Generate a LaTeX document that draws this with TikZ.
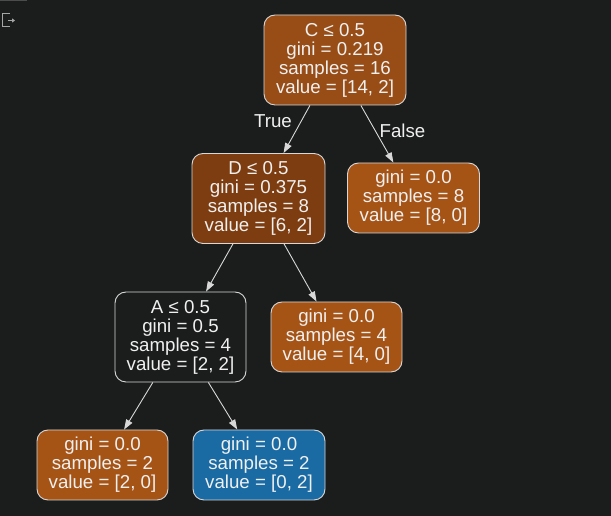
\documentclass[tikz,border=0pt]{standalone}
\usepackage{fontspec}
\setmainfont{Liberation Sans}
\usetikzlibrary{arrows.meta}
\definecolor{bg}{HTML}{1B1C1C}
\definecolor{ink}{HTML}{F0F0F0}
\definecolor{rim}{HTML}{D8D8D8}
\definecolor{rootfill}{HTML}{984D17}
\definecolor{midfill}{HTML}{7D3D10}
\definecolor{orangeleaf}{HTML}{A65316}
\definecolor{blueleaf}{HTML}{1A6AA4}
\tikzset{
  treenode/.style={draw=rim, line width=0.9pt, rounded corners=11pt, text=ink,
    align=center, inner sep=0pt, minimum height=90pt,
    font=\fontsize{18.7}{19}\selectfont},
  leafnode/.style={treenode, minimum height=70pt, minimum width=132pt},
  edge/.style={draw=rim, line width=0.9pt, -{Triangle[length=10pt,width=7pt]}},
  edgelabel/.style={text=ink, font=\fontsize{18.7}{19}\selectfont}
}
\begin{document}
\begin{tikzpicture}[x=1pt,y=1pt]
  \fill[bg] (0,0) rectangle (611,516);
  \useasboundingbox (0,0) rectangle (611,516);
  % panel edge and output icon
  \fill[black!70!white] (0,515) rectangle (27,516);
  \draw[gray!70, line width=1pt] (10,502) -- (2.5,502) -- (2.5,489) -- (10,489);
  \draw[gray!70, line width=1pt, -{Triangle[length=3pt,width=4pt]}] (8,495.5) -- (15,495.5);

  % tree nodes
  \node[treenode, fill=rootfill, minimum width=142pt] (root) at (335,456)
    {C ≤ 0.5\\gini = 0.219\\samples = 16\\value = [14, 2]};
  \node[treenode, fill=midfill, minimum width=133pt] (nodeD) at (258.5,317.5)
    {D ≤ 0.5\\gini = 0.375\\samples = 8\\value = [6, 2]};
  \node[leafnode, fill=orangeleaf] (leafR) at (413.5,318)
    {gini = 0.0\\samples = 8\\value = [8, 0]};
  \node[treenode, fill=bg, minimum width=131pt] (nodeA) at (180.5,179)
    {A ≤ 0.5\\gini = 0.5\\samples = 4\\value = [2, 2]};
  \node[leafnode, fill=orangeleaf, minimum width=131pt] (leafM) at (336.5,179)
    {gini = 0.0\\samples = 4\\value = [4, 0]};
  \node[leafnode, fill=orangeleaf, minimum width=131pt] (leafLL) at (102.5,51)
    {gini = 0.0\\samples = 2\\value = [2, 0]};
  \node[leafnode, fill=blueleaf] (leafLR) at (259,51)
    {gini = 0.0\\samples = 2\\value = [0, 2]};

  % connectors
  \draw[edge] (root) -- (nodeD);
  \draw[edge] (root) -- (leafR);
  \draw[edge] (nodeD) -- (nodeA);
  \draw[edge] (nodeD) -- (leafM);
  \draw[edge] (nodeA) -- (leafLL);
  \draw[edge] (nodeA) -- (leafLR);

  \node[edgelabel] (lblT) at (273,395) {True};
  \node[edgelabel] (lblF) at (402.5,385) {False};
\end{tikzpicture}
\end{document}
